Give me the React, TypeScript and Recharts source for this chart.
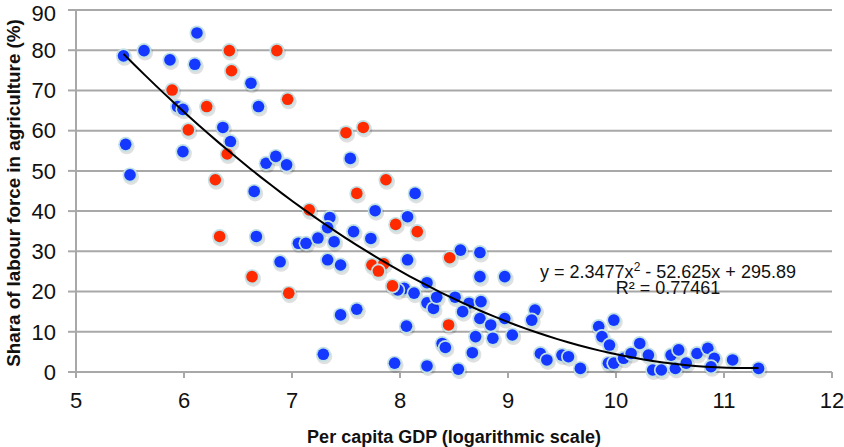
import { ScatterChart, Scatter, XAxis, YAxis, CartesianGrid } from "recharts";

// blue countries
const blueX = [
  5.44, 5.63, 6.12, 5.87, 6.1, 6.62, 6.69, 5.94, 5.99, 6.36, 6.43, 5.46, 5.99, 5.5, 6.76, 6.85, 6.95, 6.65,
  7.54, 8.14, 6.67, 7.06, 7.13, 7.24, 7.35, 7.33, 6.89, 7.29, 7.77, 8.07, 7.33, 7.57, 7.73, 7.39, 8.56, 8.74,
  7.45, 8.07, 8.74, 8.97, 8.25, 8.04, 8.13, 7.98, 8.25, 8.31, 8.34, 8.51, 8.64, 8.75, 8.58, 8.74, 8.84, 8.97,
  9.04, 7.6, 7.45, 8.06, 8.7, 8.86, 8.39, 8.42, 8.67, 7.95, 8.25, 8.54, 9.25, 9.22, 9.3, 9.36, 9.5, 9.56,
  9.67, 9.84, 9.87, 9.98, 9.94, 9.93, 9.98, 10.07, 10.14, 10.22, 10.3, 10.34, 10.42, 10.51, 10.58, 10.55,
  10.65, 10.75, 10.85, 10.91, 10.88, 11.08, 11.32,
];
const blueY = [
  78.6, 79.9, 84.3, 77.6, 76.5, 71.8, 66.0, 66.0, 65.3, 60.8, 57.3, 56.6, 54.8, 49.0, 51.9, 53.6, 51.5, 44.9,
  53.1, 44.4, 33.7, 32.0, 32.0, 33.3, 38.4, 27.9, 27.4, 4.4, 40.1, 38.6, 35.9, 34.9, 33.2, 32.4, 30.3, 29.7,
  26.6, 27.9, 23.7, 23.7, 22.2, 20.8, 19.6, 20.4, 17.2, 15.8, 18.6, 18.6, 17.1, 17.5, 15.0, 13.3, 11.7, 13.3,
  9.2, 15.6, 14.2, 11.4, 8.8, 8.4, 7.1, 6.1, 4.8, 2.2, 1.5, 0.7, 15.4, 12.9, 4.6, 3.0, 4.2, 3.8,
  0.9, 11.3, 8.8, 12.9, 6.7, 2.2, 2.2, 3.4, 4.6, 7.1, 4.2, 0.5, 0.5, 4.2, 5.5, 0.9,
  2.2, 4.6, 5.9, 3.4, 1.3, 3.0, 0.9,
];

// red countries
const redX = [
  6.42, 6.86, 6.44, 5.89, 6.96, 6.21, 6.04, 6.4, 6.29, 7.5, 7.66, 7.87, 7.6, 7.16, 6.33, 6.63, 6.97,
  7.96, 8.16, 8.46, 7.74, 7.85, 7.8, 7.93, 8.45,
];
const redY = [
  79.9, 79.9, 74.9, 70.1, 67.8, 66.0, 60.2, 54.2, 47.8, 59.5, 60.8, 47.8, 44.4, 40.3, 33.7, 23.7, 19.6,
  36.7, 34.9, 28.4, 26.6, 26.9, 25.1, 21.4, 11.7,
];

const xTicks = [5, 6, 7, 8, 9, 10, 11, 12];
const yTicks = [0, 10, 20, 30, 40, 50, 60, 70, 80, 90];

// polynomial trendline as printed on the chart
const trendA = 2.3477;
const trendB = -52.625;
const trendC = 295.89;

const blueData = blueX.map((x, i) => ({ x, y: blueY[i] }));
const redData = redX.map((x, i) => ({ x, y: redY[i] }));

const allX = [...blueX, ...redX];
const xMin = Math.min(...allX);
const xMax = Math.max(...allX);
const trendData = Array.from({ length: 61 }, (_, i) => {
  const x = xMin + ((xMax - xMin) * i) / 60;
  return { x, y: trendA * x * x + trendB * x + trendC };
});

const FONT = "'Liberation Sans', Arial, Helvetica, sans-serif";
const GRID = "#a8a8a8";

const makeDot = (fill: string) => (props: any) => {
  const { cx, cy } = props;
  if (cx == null || cy == null) return <g />;
  return (
    <g>
      <circle cx={cx + 1} cy={cy + 2} r={8} fill="#000" opacity={0.12} />
      <circle cx={cx} cy={cy} r={7.5} fill="#c2e1e5" />
      <circle cx={cx} cy={cy} r={5.8} fill={fill} />
    </g>
  );
};

const YTitle = (props: any) => {
  const vb = props.viewBox;
  const cx = 20;
  const cy = vb.y + vb.height / 2 + 2;
  return (
    <text
      x={cx}
      y={cy}
      transform={`rotate(-90, ${cx}, ${cy})`}
      textAnchor="middle"
      fontFamily={FONT}
      fontWeight="bold"
      fontSize={18.8}
      fill="#111"
    >
      Shara of labour force in agriculture (%)
    </text>
  );
};

export default function App() {
  return (
    <div style={{ position: "absolute", left: 0, top: 0, width: 844, height: 447, background: "#fff" }}>
      <ScatterChart width={844} height={447} margin={{ top: 10, right: 12, bottom: 0, left: 0 }}>
        <CartesianGrid vertical={false} stroke={GRID} strokeWidth={2} />
        <XAxis
          type="number"
          dataKey="x"
          domain={[5, 12]}
          ticks={xTicks}
          height={75}
          axisLine={{ stroke: GRID, strokeWidth: 2 }}
          tickLine={{ stroke: GRID, strokeWidth: 2 }}
          tickSize={6}
          tickMargin={14}
          tick={{ fill: "#111", fontSize: 22, fontFamily: FONT }}
          label={{
            value: "Per capita GDP (logarithmic scale)",
            position: "insideBottom",
            offset: 4,
            fill: "#111",
            fontSize: 18,
            fontWeight: "bold",
            fontFamily: FONT,
          }}
        />
        <YAxis
          type="number"
          dataKey="y"
          domain={[0, 90]}
          ticks={yTicks}
          width={76}
          axisLine={{ stroke: GRID, strokeWidth: 2 }}
          tickLine={{ stroke: GRID, strokeWidth: 2 }}
          tickSize={8}
          tickMargin={12}
          tick={{ fill: "#111", fontSize: 22, fontFamily: FONT }}
          label={{ content: <YTitle /> }}
        />
        <Scatter data={blueData} shape={makeDot("#1438ff")} isAnimationActive={false} />
        <Scatter data={redData} shape={makeDot("#ff2a00")} isAnimationActive={false} />
        <Scatter
          data={trendData}
          line={{ stroke: "#000", strokeWidth: 2 }}
          lineType="joint"
          shape={() => <g />}
          isAnimationActive={false}
        />
      </ScatterChart>
      <svg
        width={844}
        height={447}
        style={{ position: "absolute", left: 0, top: 0, pointerEvents: "none" }}
      >
        <text x={668} y={278} textAnchor="middle" fontFamily={FONT} fontSize={18} fill="#111">
          <tspan>y = 2.3477x</tspan>
          <tspan dy={-7} fontSize={12}>2</tspan>
          <tspan dy={7}> - 52.625x + 295.89</tspan>
        </text>
        <text x={668} y={294} textAnchor="middle" fontFamily={FONT} fontSize={18} fill="#111">
          R² = 0.77461
        </text>
      </svg>
    </div>
  );
}
